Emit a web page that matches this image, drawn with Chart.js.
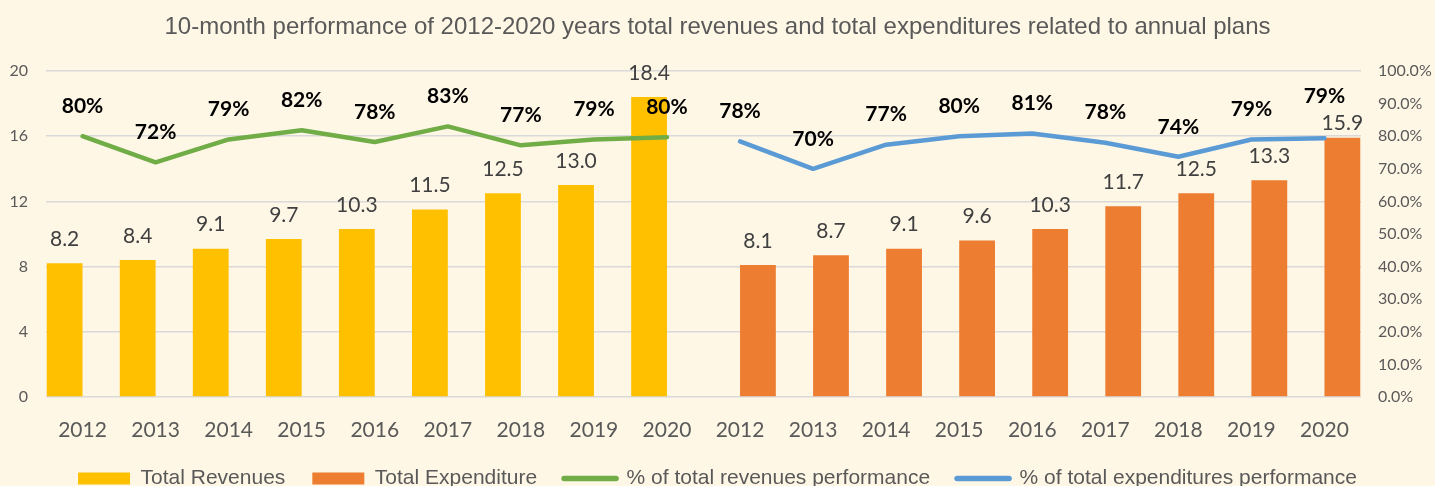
<!DOCTYPE html>
<html>
<head>
<meta charset="utf-8">
<script src="https://cdn.jsdelivr.net/npm/chart.js@4.4.0/dist/chart.umd.min.js"></script>
<style>
  html, body { margin: 0; padding: 0; background: #FFF7E6; }
  #wrap { width: 1435px; height: 486px; }
</style>
</head>
<body>
<div id="wrap"><canvas id="perfChart" width="1435" height="486"></canvas></div>
<script>
// categories: revenues 2012-2020 then expenditures 2012-2020
const labels = ["2012","2013","2014","2015","2016","2017","2018","2019","2020",
                "2012","2013","2014","2015","2016","2017","2018","2019","2020"];

// bar values (left axis)
const revenues    = [8.2, 8.4, 9.1, 9.7, 10.3, 11.5, 12.5, 13.0, 18.4,
                     null, null, null, null, null, null, null, null, null];
const expenditure = [null, null, null, null, null, null, null, null, null,
                     8.1, 8.7, 9.1, 9.6, 10.3, 11.7, 12.5, 13.3, 15.9];

// performance shares (right axis)
const revPerf = [0.80, 0.72, 0.79, 0.818, 0.782, 0.83, 0.772, 0.79, 0.797,
                 null, null, null, null, null, null, null, null, null];
const expPerf = [null, null, null, null, null, null, null, null, null,
                 0.784, 0.70, 0.774, 0.80, 0.808, 0.78, 0.737, 0.79, 0.794];

const numFont = "Lato, 'Noto Sans', sans-serif";
const txtFont = "'Liberation Sans', Arial, sans-serif";

// data labels drawn on top of bars and line points
const valueLabels = {
  id: 'valueLabels',
  afterDatasetsDraw(chart) {
    const ctx = chart.ctx;
    const barPos = {};   // index -> bar top
    const linePos = {};  // index -> point
    chart.data.datasets.forEach((ds, i) => {
      const meta = chart.getDatasetMeta(i);
      meta.data.forEach((el, j) => {
        const v = ds.data[j];
        if (v === null || v === undefined) return;
        if (ds.type === 'line') linePos[j] = { x: el.x, y: el.y, v };
        else barPos[j] = { x: el.x, y: el.y, v };
      });
    });
    ctx.save();
    ctx.textAlign = 'center';
    ctx.textBaseline = 'middle';
    Object.keys(barPos).forEach(j => {
      const b = barPos[j], l = linePos[j];
      let by = b.y - 24;
      // move apart when a bar label runs into a line label
      if (l && Math.abs((l.y - 30) - by) < 24 && Math.abs(l.x - b.x) < 40) {
        by = b.y - 15;
        l.shift = 42;
      }
      ctx.font = "21px " + numFont;
      ctx.fillStyle = '#404040';
      ctx.fillText(b.v.toFixed(1), b.x, by);
    });
    Object.keys(linePos).forEach(j => {
      const l = linePos[j];
      ctx.font = "bold 21px " + numFont;
      ctx.fillStyle = '#000000';
      ctx.fillText(Math.round(l.v * 100) + '%', l.x, l.y - (l.shift || 30));
    });
    ctx.restore();
  }
};

new Chart(document.getElementById('perfChart'), {
  data: {
    labels,
    datasets: [
      { type: 'bar', label: 'Total Revenues', data: revenues, backgroundColor: '#FFC000',
        yAxisID: 'y', order: 2, categoryPercentage: 0.98, barPercentage: 1.0 },
      { type: 'bar', label: 'Total Expenditure', data: expenditure, backgroundColor: '#ED7D31',
        yAxisID: 'y', order: 2, categoryPercentage: 0.98, barPercentage: 1.0 },
      { type: 'line', label: '% of total revenues performance', data: revPerf, borderColor: '#70AD47',
        borderWidth: 4.5, pointRadius: 0, borderCapStyle: 'round', borderJoinStyle: 'round',
        yAxisID: 'y1', order: 1, spanGaps: false },
      { type: 'line', label: '% of total expenditures performance', data: expPerf, borderColor: '#5B9BD5',
        borderWidth: 4.5, pointRadius: 0, borderCapStyle: 'round', borderJoinStyle: 'round',
        yAxisID: 'y1', order: 1, spanGaps: false }
    ]
  },
  options: {
    responsive: false,
    animation: false,
    layout: { padding: { left: 0, right: 0, top: 0, bottom: -13 } },
    plugins: {
      tooltip: { enabled: false },
      title: {
        display: true,
        text: '10-month performance of 2012-2020 years total revenues and total expenditures related to annual plans',
        color: '#595959',
        font: { family: txtFont, size: 24, weight: 'normal', lineHeight: 1.2 },
        padding: { top: 13, bottom: 29.2 }
      },
      legend: {
        position: 'bottom',
        labels: {
          color: '#595959',
          font: { family: txtFont, size: 21 },
          usePointStyle: true,
          pointStyleWidth: 52,
          boxHeight: 12,
          padding: 27,
          generateLabels(chart) {
            return chart.data.datasets.map((ds, i) => {
              const isLine = ds.type === 'line';
              return {
                text: ds.label,
                datasetIndex: i,
                hidden: false,
                fillStyle: isLine ? ds.borderColor : ds.backgroundColor,
                strokeStyle: isLine ? ds.borderColor : ds.backgroundColor,
                lineWidth: isLine ? 5.5 : 0,
                lineCap: 'round',
                pointStyle: isLine ? 'line' : 'rect',
                fontColor: '#595959'
              };
            });
          }
        }
      }
    },
    scales: {
      x: {
        grid: { display: false },
        border: { display: false },
        ticks: { color: '#595959', font: { family: numFont, size: 21 }, padding: 13, maxRotation: 0, autoSkip: false },
        afterFit(s) { s.height = 44; }
      },
      y: {
        position: 'left',
        min: 0, max: 20,
        ticks: { stepSize: 4, color: '#595959', font: { family: numFont, size: 16 }, padding: 18 },
        grid: { color: '#D9D9D9', lineWidth: 1.5, drawTicks: false },
        border: { display: false },
        afterFit(s) { s.width = 46; }
      },
      y1: {
        position: 'right',
        min: 0, max: 1,
        ticks: { stepSize: 0.1, color: '#595959', font: { family: numFont, size: 16 }, padding: 17,
                 callback: v => (v * 100).toFixed(1) + '%' },
        grid: { display: false, drawTicks: false },
        border: { display: false },
        afterFit(s) { s.width = 74; }
      }
    }
  },
  plugins: [valueLabels]
});
</script>
</body>
</html>
